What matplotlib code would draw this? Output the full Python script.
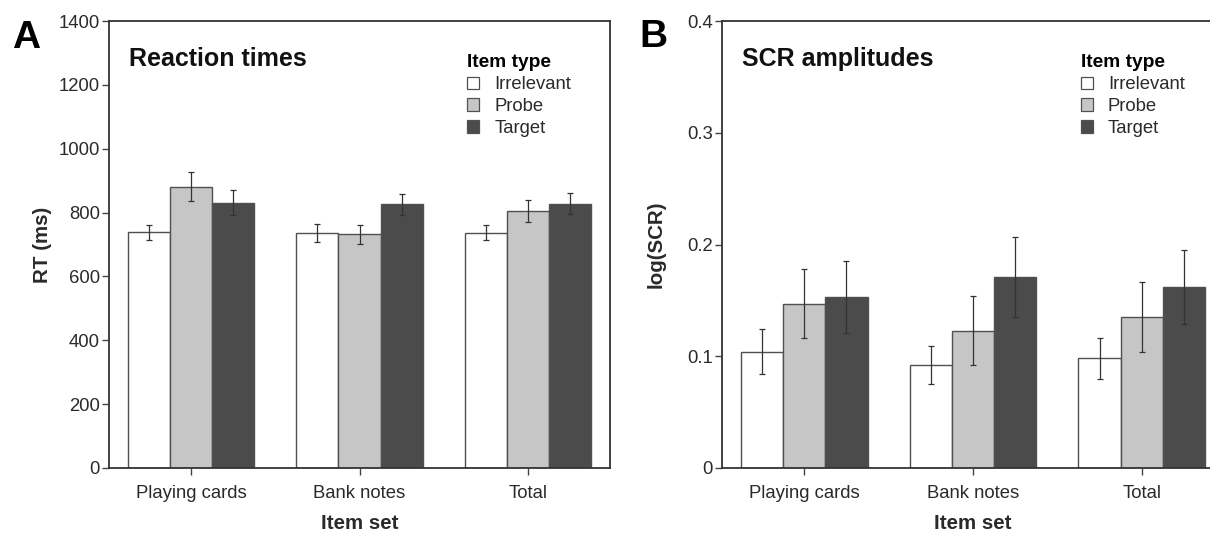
import numpy as np
import matplotlib
matplotlib.use("Agg")
import matplotlib.pyplot as plt
from matplotlib.patches import Patch

plt.rcParams['font.family'] = ['Liberation Sans', 'DejaVu Sans']

# data
item_sets = ["Playing cards", "Bank notes", "Total"]
item_types = ["Irrelevant", "Probe", "Target"]

rt_mean = {
    "Irrelevant": [738, 737, 737],
    "Probe": [881, 732, 804],
    "Target": [831, 826, 828],
}
rt_err = {
    "Irrelevant": [24, 28, 23],
    "Probe": [46, 29, 35],
    "Target": [40, 33, 33],
}
scr_mean = {
    "Irrelevant": [0.104, 0.092, 0.098],
    "Probe": [0.147, 0.123, 0.135],
    "Target": [0.153, 0.171, 0.162],
}
scr_err = {
    "Irrelevant": [0.020, 0.017, 0.018],
    "Probe": [0.031, 0.031, 0.031],
    "Target": [0.032, 0.036, 0.033],
}

colors = {"Irrelevant": "#ffffff", "Probe": "#c6c6c6", "Target": "#4b4b4b"}
edge = "#505050"
txt = "#2a2a2a"

fig = plt.figure(figsize=(12.1, 5.33), dpi=100)
axA = fig.add_axes([109 / 1210, 65 / 533, 501 / 1210, 447 / 533])
axB = fig.add_axes([722 / 1210, 65 / 533, 502 / 1210, 447 / 533])


def draw_panel(ax, means, errs, ylim, yticks, yticklabels, ylabel, title):
    x = np.arange(len(item_sets))
    w = 0.25
    for i, t in enumerate(item_types):
        ax.bar(x + (i - 1) * w, means[t], w, color=colors[t], edgecolor=edge,
               linewidth=1.0, zorder=2)
        ax.errorbar(x + (i - 1) * w, means[t], yerr=errs[t], fmt="none",
                    ecolor="#333333", elinewidth=0.9, capsize=2.5, capthick=0.9,
                    zorder=3)
    ax.set_xlim(-0.487, 2.487)
    ax.set_ylim(*ylim)
    ax.set_yticks(yticks)
    ax.set_yticklabels(yticklabels)
    ax.set_xticks(x)
    ax.set_xticklabels(item_sets)
    for s in ax.spines.values():
        s.set_linewidth(1.3)
        s.set_color("#333333")
    ax.tick_params(axis="both", direction="out", length=5, width=1.0,
                   color="#444444", labelsize=13.3, labelcolor=txt, pad=1.5)
    ax.tick_params(axis="x", pad=7)
    ax.set_ylabel(ylabel, fontsize=14.8, fontweight="bold", color=txt)
    ax.yaxis.set_label_coords(-0.113, 0.5)
    ax.set_xlabel("Item set", fontsize=14.8, fontweight="bold", color=txt, labelpad=9)
    ax.text(0.04, 0.915, title, transform=ax.transAxes, fontsize=18,
            fontweight="bold", color="#111111", va="center", ha="left")
    handles = [Patch(facecolor=colors[t], edgecolor=edge, linewidth=0.9) for t in item_types]
    leg = ax.legend(handles, item_types, title="Item type", loc="upper left",
                    bbox_to_anchor=(0.702, 0.94), frameon=False, fontsize=13.3,
                    title_fontproperties={"weight": "bold", "size": 13.8},
                    alignment="left", handlelength=0.65, handleheight=0.65,
                    handletextpad=0.8, labelspacing=0.26, borderaxespad=0,
                    borderpad=0.36)
    for t in leg.get_texts():
        t.set_color(txt)


draw_panel(axA, rt_mean, rt_err, (0, 1400), np.arange(0, 1401, 200),
           [str(v) for v in range(0, 1401, 200)], "RT (ms)", "Reaction times")
draw_panel(axB, scr_mean, scr_err, (0, 0.4), [0, 0.1, 0.2, 0.3, 0.4],
           ["0", "0.1", "0.2", "0.3", "0.4"], "log(SCR)", "SCR amplitudes")

fig.text(12 / 1210, 1 - 48 / 533, "A", fontsize=28, fontweight="bold", va="baseline", ha="left")
fig.text(639 / 1210, 1 - 47 / 533, "B", fontsize=28, fontweight="bold", va="baseline", ha="left")

fig.savefig("out.png", dpi=100)
